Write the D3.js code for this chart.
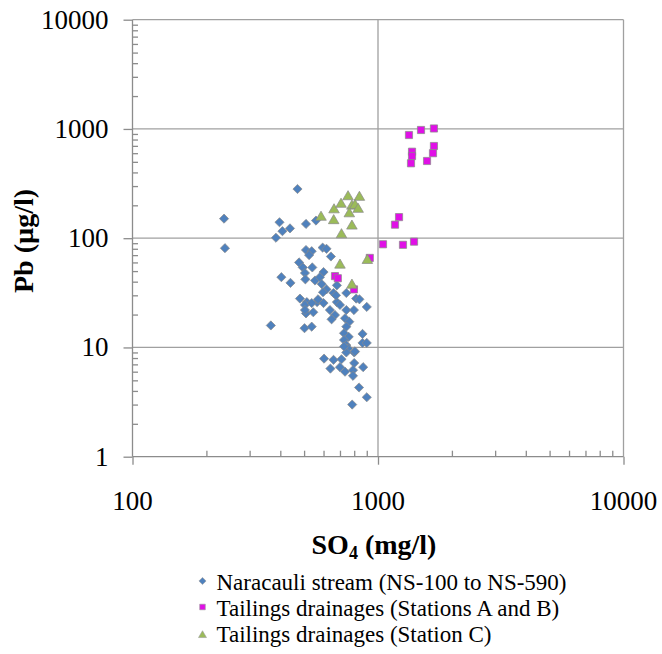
<!DOCTYPE html>
<html>
<head>
<meta charset="utf-8">
<script src="https://cdn.jsdelivr.net/npm/d3@7"></script>
<style>
  html, body { margin: 0; padding: 0; background: #fff; }
  svg { display: block; }
</style>
</head>
<body>
<svg id="chart" width="662" height="654"></svg>
<script>
// ---- Data ----
const xTickValues = [100, 1000, 10000];
const yTickValues = [1, 10, 100, 1000, 10000];

const seriesNames = [
  "Naracauli stream (NS-100 to NS-590)",
  "Tailings drainages (Stations A and B)",
  "Tailings drainages (Station C)"
];

// Naracauli stream (NS-100 to NS-590): SO4 (mg/l), Pb (µg/l)
const naracauliSO4 = [236,238,470,397,408,438,384,509,559,509,
  537,524,595,617,643,477,494,540,504,404,
  440,506,554,600,580,590,680,617,659,743,
  815,481,513,565,680,900,504,537,600,700,
  743,798,840,509,545,668,647,734,764,366,
  502,537,743,727,760,865,727,743,865,900,
  755,800,743,603,659,710,800,640,700,734,
  791,870,791,837,900,785,504,637,597,674,
  570,806,727];
const naracauliPb = [151,81,282,140,116,123,101,135,145,78,
  76,70,82,80,68,60,54,54,48,44,
  39,42,41,49,44,38,37,34,31.5,31.5,
  28,28,26,26,26,23.5,24.5,25.5,25.5,24.5,
  22,22,27.6,20.5,21,19.8,18.1,18.5,17.2,15.9,
  15,15.5,15.5,13.5,12.5,13.3,11.7,10.5,11,11,
  9.8,9.0,9.0,7.9,7.7,7.8,7.2,6.4,6.6,6.0,
  6.2,6.6,5.5,4.3,3.5,3.0,22,22,32,30,
  27.6,9.2,10.2];

// Tailings drainages (Stations A and B)
const stationsABSO4 = [1337,1497,1690,1690,1675,1376,1376,1363,1584,1218,1173,1048,1264,1402,926,668,686,798];
const stationsABPb  = [880,978,1010,698,600,619,565,485,509,156,133,88,87,93,66,45,43,34];

// Tailings drainages (Station C)
const stationCSO4 = [586,662,707,755,840,660,783,806,764,830,710,783,700,905,783];
const stationCPb  = [159,186,209,245,242,148,201,204,171,188,110,132,58,64,38];

// ---- Layout ----
const plotLeft = 132.5, plotRight = 623.5, plotTop = 19.7, plotBottom = 456.7;
const gridColor = "#a0a0a0";
const axisColor = "#8c8c8c";
const serif = "'Liberation Serif', 'Times New Roman', serif";

const svg = d3.select("#chart");

const x = d3.scaleLog().domain([100, 10000]).range([plotLeft, plotRight]);
const y = d3.scaleLog().domain([1, 10000]).range([plotBottom, plotTop]);

// minor tick values
const xMinor = [], yMinor = [];
[100, 1000].forEach(d => { for (let k = 2; k <= 9; k++) xMinor.push(d * k); });
[1, 10, 100, 1000].forEach(d => { for (let k = 2; k <= 9; k++) yMinor.push(d * k); });

// Grid lines (horizontal at decades, vertical at 1000 and border at 10000)
const grid = svg.append("g");
grid.selectAll("line.h").data(yTickValues.filter(v => v > 1)).join("line")
  .attr("x1", plotLeft).attr("x2", plotRight)
  .attr("y1", d => y(d)).attr("y2", d => y(d))
  .attr("stroke", gridColor).attr("stroke-width", 1.3);
grid.selectAll("line.v").data(xTickValues.filter(v => v > 100)).join("line")
  .attr("x1", d => x(d)).attr("x2", d => x(d))
  .attr("y1", plotTop).attr("y2", plotBottom)
  .attr("stroke", gridColor).attr("stroke-width", 1.3);

// Axes
const xAxisMajor = d3.axisBottom(x).tickValues(xTickValues).tickSize(8).tickFormat("");
const gx = svg.append("g").attr("transform", `translate(0,${plotBottom})`).call(xAxisMajor);
const xAxisMinor = d3.axisTop(x).tickValues(xMinor).tickSize(6).tickFormat("");
const gxm = svg.append("g").attr("transform", `translate(0,${plotBottom})`).call(xAxisMinor);

const yAxisMajor = d3.axisLeft(y).tickValues(yTickValues).tickSize(9).tickFormat("");
const gy = svg.append("g").attr("transform", `translate(${plotLeft},0)`).call(yAxisMajor);
const yAxisMinor = d3.axisRight(y).tickValues(yMinor).tickSize(5.5).tickFormat("");
const gym = svg.append("g").attr("transform", `translate(${plotLeft},0)`).call(yAxisMinor);

[gx, gxm, gy, gym].forEach(g => {
  g.selectAll("path.domain").attr("stroke", axisColor).attr("stroke-width", 1.3);
  g.selectAll(".tick line").attr("stroke", axisColor).attr("stroke-width", 1.3);
});
gxm.select("path.domain").remove();
gym.select("path.domain").remove();
gx.select("path.domain").attr("d", `M${plotLeft},0H${plotRight}`);
gy.select("path.domain").attr("d", `M0,${plotTop}V${plotBottom}`);

// Tick labels
svg.append("g").selectAll("text").data(xTickValues).join("text")
  .attr("x", d => x(d)).attr("y", plotBottom + 53.5)
  .attr("text-anchor", "middle")
  .attr("font-family", serif).attr("font-size", 27).attr("fill", "#000")
  .text(d => d3.format("d")(d));
svg.append("g").selectAll("text").data(yTickValues).join("text")
  .attr("x", 108.5).attr("y", d => y(d) + 9)
  .attr("text-anchor", "end")
  .attr("font-family", serif).attr("font-size", 27).attr("fill", "#000")
  .text(d => d3.format("d")(d));

// Axis titles
const xt = svg.append("text")
  .attr("x", 374).attr("y", 554)
  .attr("text-anchor", "middle")
  .attr("font-family", serif).attr("font-size", 28).attr("font-weight", "bold").attr("fill", "#000");
xt.append("tspan").text("SO");
xt.append("tspan").attr("font-size", 18).attr("dy", 5).text("4");
xt.append("tspan").attr("dy", -5).text(" (mg/l)");

svg.append("text")
  .attr("transform", "translate(33,241) rotate(-90)")
  .attr("text-anchor", "middle")
  .attr("font-family", serif).attr("font-size", 28).attr("font-weight", "bold").attr("fill", "#000")
  .text("Pb (µg/l)");

// Marker shapes
const diamond = s => `M0,${-s}L${s},0L0,${s}L${-s},0Z`;
const square = s => `M${-s},${-s}H${s}V${s}H${-s}Z`;
const triangle = s => `M0,${-s * 1.05}L${s * 1.1},${s * 0.85}L${-s * 1.1},${s * 0.85}Z`;

const series = [
  { so4: naracauliSO4, pb: naracauliPb, fill: "#4f81bd", shape: diamond, size: 4.6, legendSize: 3.6 },
  { so4: stationsABSO4, pb: stationsABPb, fill: "#e010e6", shape: square, size: 3.6, legendSize: 2.8 },
  { so4: stationCSO4, pb: stationCPb, fill: "#9bbb59", shape: triangle, size: 4.8, legendSize: 3.6 }
];

const pts = svg.append("g");
series.forEach(s => {
  const data = s.so4.map((v, i) => [v, s.pb[i]]);
  pts.append("g").selectAll("path").data(data).join("path")
    .attr("transform", d => `translate(${x(d[0])},${y(d[1])})`)
    .attr("d", s.shape(s.size))
    .attr("fill", s.fill)
    .attr("stroke", "#8a8a8a").attr("stroke-opacity", 0.8).attr("stroke-width", 0.9);
});

// Legend
const legend = svg.append("g");
const legendY = [581, 607, 633];
seriesNames.forEach((name, i) => {
  const s = series[i];
  legend.append("path")
    .attr("transform", `translate(202.5,${legendY[i] + (i === 2 ? 1.5 : 0)})`)
    .attr("d", s.shape(s.legendSize))
    .attr("fill", s.fill)
    .attr("stroke", "#9a9a9a").attr("stroke-width", 0.6);
  legend.append("text")
    .attr("x", 216.5).attr("y", legendY[i] + 8.5)
    .attr("font-family", serif).attr("font-size", 23).attr("fill", "#000")
    .text(name);
});
</script>
</body>
</html>
